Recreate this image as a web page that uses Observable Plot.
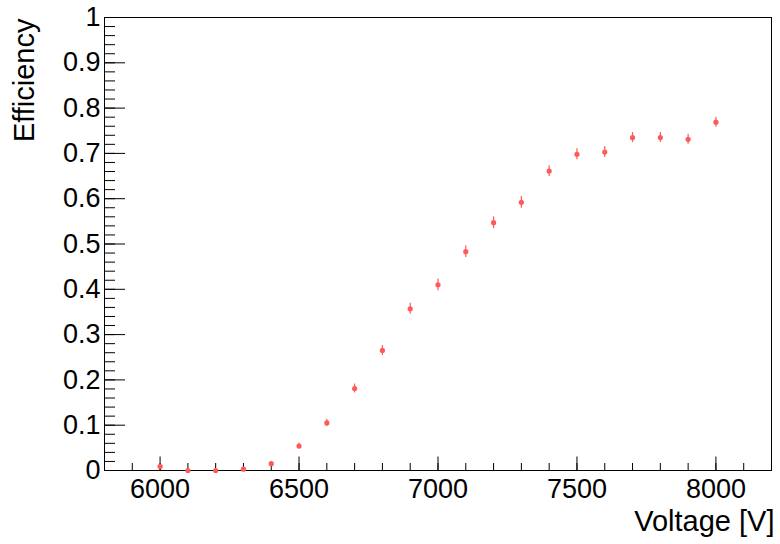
<!DOCTYPE html>
<html>
<head>
<meta charset="utf-8">
<script src="https://cdn.jsdelivr.net/npm/d3@7"></script>
<script src="https://cdn.jsdelivr.net/npm/@observablehq/plot@0.6"></script>
<style>
  html, body { margin: 0; padding: 0; background: #fff; }
  #chart { width: 780px; height: 544px; }
</style>
</head>
<body>
<div id="chart"></div>
<script>
// Data
const voltage = [6000, 6100, 6200, 6300, 6400, 6500, 6600, 6700, 6800, 6900, 7000,
                 7100, 7200, 7300, 7400, 7500, 7600, 7700, 7800, 7900, 8000];
const efficiency = [0.009, 0.000, 0.000, 0.003, 0.015, 0.054, 0.105, 0.181, 0.265, 0.357, 0.410,
                    0.483, 0.547, 0.592, 0.661, 0.698, 0.703, 0.735, 0.735, 0.731, 0.769];
const errors = [0.003, 0.001, 0.001, 0.002, 0.004, 0.006, 0.008, 0.010, 0.011, 0.012, 0.013,
                0.013, 0.013, 0.013, 0.012, 0.012, 0.012, 0.011, 0.011, 0.011, 0.011];

// Axes
const xDomain = [5800, 8200];
const yDomain = [0, 1];
const xMajorTicks = [6000, 6500, 7000, 7500, 8000];
const xTickLabels = ["6000", "6500", "7000", "7500", "8000"];
const xMinorTicks = d3.range(5900, 8101, 100);
const yMajorTicks = [0, 0.1, 0.2, 0.3, 0.4, 0.5, 0.6, 0.7, 0.8, 0.9, 1];
const yTickLabels = ["0", "0.1", "0.2", "0.3", "0.4", "0.5", "0.6", "0.7", "0.8", "0.9", "1"];
const yMinorTicks = d3.range(1, 50).map(i => i / 50);
const xTitle = "Voltage [V]";
const yTitle = "Efficiency";

const data = voltage.map((v, i) => ({v, e: efficiency[i], err: errors[i]}));

const FONT = "'Liberation Sans', Arial, Helvetica, sans-serif";
const RED = "#ff5a5a";

const W = 780, H = 544, ML = 104, MR = 9, MT = 17, MB = 74;
const innerW = W - ML - MR, innerH = H - MT - MB;

const chart = Plot.plot({
  width: W,
  height: H,
  marginLeft: ML,
  marginRight: MR,
  marginTop: MT,
  marginBottom: MB,
  style: {fontFamily: FONT, background: "#fff", color: "#000"},
  x: {domain: xDomain},
  y: {domain: yDomain},
  marks: [
    // x ticks (inward from the bottom edge)
    Plot.ruleX(xMinorTicks, {x: d => d, insetTop: innerH - 7, stroke: "#000", strokeWidth: 1}),
    Plot.ruleX(xMajorTicks, {x: d => d, insetTop: innerH - 13.5, stroke: "#000", strokeWidth: 1}),
    // y ticks (inward from the left edge)
    Plot.ruleY(yMinorTicks, {y: d => d, insetRight: innerW - 11, stroke: "#000", strokeWidth: 1}),
    Plot.ruleY(yMajorTicks, {y: d => d, insetRight: innerW - 21, stroke: "#000", strokeWidth: 1}),
    Plot.frame({stroke: "#000", strokeWidth: 1}),
    Plot.axisX(xMajorTicks, {
      tickSize: 0, tickPadding: 8, fontSize: 27, label: null,
      tickFormat: (d) => xTickLabels[xMajorTicks.indexOf(d)]
    }),
    Plot.axisY(yMajorTicks, {
      tickSize: 0, tickPadding: 4, fontSize: 27, label: null,
      tickFormat: (d) => yTickLabels[yMajorTicks.indexOf(d)]
    }),
    // error bars
    Plot.ruleX(data, {x: "v", y1: d => d.e - d.err, y2: d => d.e + d.err, stroke: RED, strokeWidth: 1.2}),
    Plot.dot(data, {x: "v", y: "e", r: 2.6, fill: RED, stroke: "none"}),
    // axis titles
    Plot.text([xTitle], {frameAnchor: "bottom-right", text: d => d, textAnchor: "end", lineAnchor: "bottom",
      dx: 3, dy: 60, fontSize: 29, fill: "#000"}),
    Plot.text([yTitle], {frameAnchor: "top-left", text: d => d, rotate: -90, textAnchor: "end", lineAnchor: "bottom",
      dx: -71, dy: 1, fontSize: 29, fill: "#000"})
  ]
});
document.getElementById("chart").appendChild(chart);
</script>
</body>
</html>
